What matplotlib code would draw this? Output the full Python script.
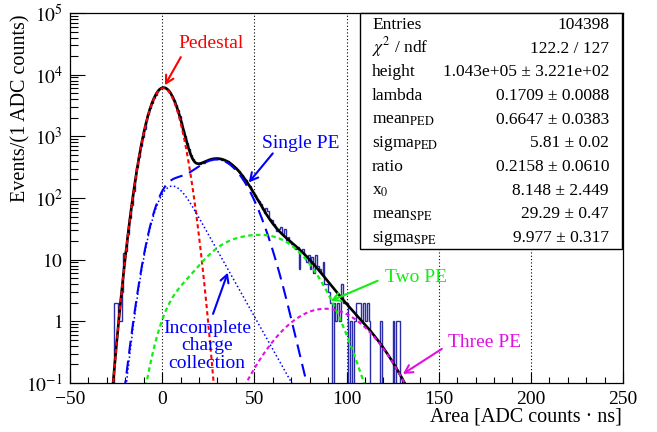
import numpy as np
import matplotlib
matplotlib.use("Agg")
from matplotlib import pyplot as plt
from matplotlib import patches
from matplotlib.ticker import FixedLocator, FixedFormatter, MultipleLocator, LogLocator, NullFormatter

plt.rcParams['font.family'] = ['Liberation Serif', 'DejaVu Serif']
plt.rcParams['mathtext.fontset'] = 'stix'

# fit results shown in the stats box
entries = 104398
chi2_ndf = (122.2, 127)
par_labels = ["height", "lambda", r"mean$_{\rm PED}$", r"sigma$_{\rm PED}$", "ratio",
              r"x$_{0}$", r"mean$_{\rm SPE}$", r"sigma$_{\rm SPE}$"]
par_values = [1.043e5, 0.1709, 0.6647, 5.81, 0.2158, 8.148, 29.29, 9.977]
par_errors = [3.221e2, 0.0088, 0.0383, 0.02, 0.0610, 2.449, 0.47, 0.317]
par_fmt = ["%.3e", "%.4f", "%.4f", "%.2f", "%.4f", "%.3f", "%.2f", "%.3f"]

# histogram, 1 ADC count per bin, first bin starts at -30
hist_start = -30
counts = [0, 0, 0, 0, 2, 2, 1, 1, 3, 13,
          14, 26, 47, 76, 128, 200, 316, 463, 690, 958,
          1330, 1748, 2290, 2846, 3502, 4110, 4760, 5270, 5760, 6020,
          6190, 6105, 5930, 5510, 5060, 4440, 3870, 3210, 2670, 2105,
          1690, 1280, 1010, 768, 622, 497, 436, 384, 371, 366,
          358, 376, 374, 398, 401, 421, 418, 437, 430, 441,
          432, 437, 420, 418, 398, 393, 368, 359, 331, 320,
          290, 278, 247, 236, 206, 195, 168, 158, 134, 127,
          112, 96, 90, 80, 66, 58, 68, 62, 46, 44,
          38, 35, 29, 31, 34, 26, 31, 21, 23, 19,
          18, 17, 15, 16, 7, 14, 15, 12, 9, 12,
          7, 11, 6, 12, 8, 7, 6, 9, 4, 4,
          3, 2, 0, 2, 1, 2, 1, 4, 2, 2,
          2, 0, 1, 0, 1, 2, 2, 2, 1, 2,
          1, 2, 1, 0, 0, 0, 0, 0, 1, 0,
          0, 0, 0, 0, 0, 1, 0, 1, 1, 0,
          0, 0, 0, 0, 0]

fit_range = (-30, 135)

# ---- fit model: pedestal + n photoelectron terms ----
height, lam, mean_ped, sigma_ped, ratio, x0, mean_spe, sigma_spe = par_values

dx = 0.1
x = np.arange(-3000, 3001) * dx

def gauss(x, m, s):
    return np.exp(-0.5 * ((x - m) / s) ** 2) / (s * np.sqrt(2 * np.pi))

def conv(a, b):
    return np.convolve(a, b, mode='same') * dx

ped = gauss(x, mean_ped, sigma_ped)
expo = np.where(x >= 0, np.exp(-np.clip(x, 0, None) / x0) / x0, 0.0)
spe = (1 - ratio) * gauss(x, mean_spe, sigma_spe) + ratio * expo

w0 = height * np.exp(-lam)
ped_curve = w0 * ped
one_pe = w0 * lam * conv(ped, spe)
icc = w0 * lam * ratio * conv(ped, expo)
two_pe = w0 * lam ** 2 / 2 * conv(conv(ped, spe), spe)
three_pe = w0 * lam ** 3 / 6 * gauss(x, mean_ped + 3 * mean_spe,
                                     np.sqrt(sigma_ped ** 2 + 3 * sigma_spe ** 2))
total = ped_curve + one_pe + two_pe + three_pe

fig = plt.figure(figsize=(6.57, 4.32), dpi=100)
ax = fig.add_axes([70 / 657, 49 / 432, 553 / 657, 370 / 432])

for g in [0, 50, 100, 150, 200]:
    ax.axvline(g, color='black', ls=(0, (1, 2)), lw=0.8, zorder=1)

edges = np.arange(hist_start, hist_start + len(counts) + 1)
ax.stairs(np.maximum(np.array(counts, float), 1e-3), edges, baseline=None,
          color='#2b2ba8', lw=1.0, zorder=2)

infit = (x >= fit_range[0]) & (x <= fit_range[1])
ax.plot(x[infit], total[infit], color='black', lw=1.9, zorder=3)
ax.plot(x, ped_curve, color='#ff0000', lw=1.5, ls=(0, (2, 1.5)), zorder=4)
ax.plot(x, one_pe, color='#0000ff', lw=1.5, ls=(0, (6.2, 3.4)), zorder=4)
ax.plot(x, icc, color='#0000ff', lw=1.1, ls=(0, (1, 1.6)), zorder=4)
ax.plot(x, two_pe, color='#11ee11', lw=1.6, ls=(0, (2, 1.5)), zorder=4)
ax.plot(x, three_pe, color='#e011e0', lw=1.5, ls=(0, (2, 1.5)), zorder=4)

ax.set_xlim(-50, 250)
ax.set_yscale('log')
ax.set_ylim(0.1, 1e5)

ax.xaxis.set_major_locator(MultipleLocator(50))
ax.xaxis.set_minor_locator(MultipleLocator(10))
yt = [0.1, 1, 10, 100, 1e3, 1e4, 1e5]
ax.yaxis.set_major_locator(FixedLocator(yt))
ax.yaxis.set_major_formatter(FixedFormatter([r"$10^{-1}$", r"$1$", r"$10$", r"$10^{2}$",
                                             r"$10^{3}$", r"$10^{4}$", r"$10^{5}$"]))
ax.yaxis.set_minor_locator(LogLocator(base=10, subs=np.arange(2, 10)))
ax.yaxis.set_minor_formatter(NullFormatter())
ax.tick_params(axis='x', which='major', direction='in', length=8, width=0.8, labelsize=14, pad=6)
ax.tick_params(axis='x', which='minor', direction='in', length=4, width=0.8)
ax.tick_params(axis='y', which='major', direction='in', length=11, width=0.8, labelsize=14, pad=5)
ax.tick_params(axis='y', which='minor', direction='in', length=5.5, width=0.8)
for s in ax.spines.values():
    s.set_linewidth(0.9)

fig.text(21 / 657, 1 - 15 / 432, "Events/(1 ADC counts)", rotation=90,
         ha='center', va='top', fontsize=14.5)
fig.text(622 / 657, 1 - 416.7 / 432, "Area [ADC counts \u00b7 ns]",
         ha='right', va='center', fontsize=14.5)

# labels with arrows
notes = [
    ("Pedestal", '#ff0000', (26.4, 32500), (10.1, 19260), (1.5, 6750)),
    ("Single PE", '#0000ff', (75.1, 769), (60.0, 529), (47.0, 179)),
    ("Incomplete\ncharge\ncollection", '#0000ff', (24.2, 0.40), (27.6, 1.32), (35.6, 6.15)),
    ("Two PE", '#11ee11', (137.6, 5.1), (116.9, 4.55), (91.5, 2.15)),
    ("Three PE", '#e011e0', (175.0, 0.447), (151.7, 0.357), (130.6, 0.14)),
]
for txt, col, tpos, start, tip in notes:
    ax.text(tpos[0], tpos[1], txt, color=col, fontsize=14, ha='center', va='center',
            linespacing=1.05, zorder=5)
    ax.annotate("", xy=tip, xytext=start,
                arrowprops=dict(arrowstyle='->,head_length=0.55,head_width=0.3',
                                color=col, lw=1.5, shrinkA=0, shrinkB=0), zorder=5)

# stats box
def ax_frac(px, py):
    return (px - 70) / 553, (383 - py) / 370

bx0, by0 = ax_frac(360, 249)
bx1, by1 = ax_frac(622, 13)
ax.add_patch(patches.Rectangle((bx0, by0), bx1 - bx0, by1 - by0, transform=ax.transAxes,
                               facecolor='white', edgecolor='black', lw=1.0,
                               zorder=6, clip_on=False))
rows = [("Entries", "%d" % entries),
        (r"$\chi^{2}$ / ndf", "%.1f / %d" % chi2_ndf)]
for lab, v, e, f in zip(par_labels, par_values, par_errors, par_fmt):
    rows.append((lab, (f % v) + " \u00b1 " + (f % e)))
row_y = np.linspace(24, 237, len(rows))
for (lab, val), yy in zip(rows, row_y):
    lx, ly = ax_frac(372, yy + 5)
    rx, _ = ax_frac(609, yy + 5)
    ax.text(lx, ly, lab, transform=ax.transAxes, ha='left', va='baseline',
            fontsize=12.5, zorder=7)
    ax.text(rx, ly, val, transform=ax.transAxes, ha='right', va='baseline',
            fontsize=12.5, zorder=7)

fig.savefig("out.png", dpi=100)
